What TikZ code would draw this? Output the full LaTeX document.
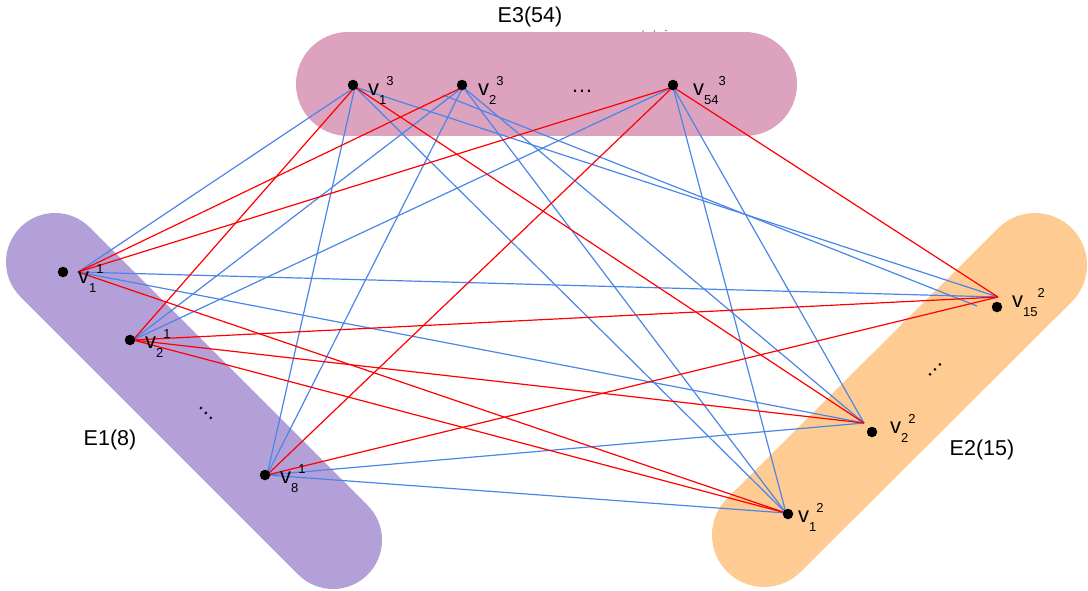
\documentclass[tikz,border=0pt]{standalone}
\usepackage{fontspec}
\setmainfont{Liberation Sans}
\definecolor{grpA}{HTML}{B4A0D8}
\definecolor{grpB}{HTML}{FECC92}
\definecolor{grpC}{HTML}{DCA2BE}
\definecolor{linkblue}{HTML}{4A86E8}
\definecolor{linkred}{HTML}{FF0000}
% vertex name: v with index below and group number above, set side by side
\newcommand\vlab[2]{v\raisebox{-9pt}{\fontsize{13}{13}\selectfont #1}\raisebox{9.5pt}{\fontsize{13}{13}\selectfont #2}}
\begin{document}
\begin{tikzpicture}[x=1pt,y=-1pt,
  blob/.style={line cap=round},
  vdot/.style={circle, fill=black, inner sep=0pt, minimum size=10.5pt},
  bl/.style={draw=linkblue, line width=1.2pt},
  rd/.style={draw=linkred, line width=1.2pt},
  vlabel/.style={anchor=base west, inner sep=0pt, font=\fontsize{22}{22}\selectfont},
  grouptitle/.style={anchor=base, inner sep=0pt, font=\fontsize{21.5}{22}\selectfont},
  ell/.style={inner sep=0pt, font=\fontsize{22}{22}\selectfont}]
\useasboundingbox (0,0) rectangle (1088,590);

% groups
\draw[blob, grpC, line width=104pt] (348,84) -- (745,84);
\draw[blob, grpA, line width=98pt] (55,262) -- (333,540);
\draw[blob, grpB, line width=104pt] (1035,265) -- (764,535);

% group titles
\node[grouptitle] (tE3) at (530,22.5) {E3(54)};
\node[grouptitle] (tE1) at (110,445) {E1(8)};
\node[grouptitle] (tE2) at (982,455) {E2(15)};

% edge ends
\coordinate (a1) at (78,272);
\coordinate (a2) at (133,340);
\coordinate (a8) at (267,475);
\coordinate (b1) at (786,513);
\coordinate (b2) at (864,423);
\coordinate (b15) at (998,297);
\coordinate (c1) at (355,87);
\coordinate (c2) at (463,87);
\coordinate (c54) at (673,87);
\coordinate (c2x) at (443,95);
\coordinate (b15x) at (977,306);

% blue edges
\draw[bl] (a1) -- (c1);
\draw[bl] (a1) -- (b2);
\draw[bl] (a1) -- (b15);
\draw[bl] (a2) -- (c2);
\draw[bl] (a2) -- (c54);
\draw[bl] (a8) -- (c1);
\draw[bl] (a8) -- (c2);
\draw[bl] (a8) -- (b2);
\draw[bl] (a8) -- (b1);
\draw[bl] (c1) -- (b1);
\draw[bl] (c1) -- (b15);
\draw[bl] (c2) -- (b1);
\draw[bl] (c2) -- (b2);
\draw[bl] (c2x) -- (b15x);
\draw[bl] (c54) -- (b1);
\draw[bl] (c54) -- (b2);

% red edges
\draw[rd] (a1) -- (c2);
\draw[rd] (a1) -- (c54);
\draw[rd] (a1) -- (b1);
\draw[rd] (a2) -- (c1);
\draw[rd] (a2) -- (b15);
\draw[rd] (a2) -- (b2);
\draw[rd] (a2) -- (b1);
\draw[rd] (a8) -- (c54);
\draw[rd] (a8) -- (b15);
\draw[rd] (c1) -- (b2);
\draw[rd] (c54) -- (b15);

% vertices
\node[vdot] (v11) at (63,272) {};
\node[vdot] (v21) at (130,340) {};
\node[vdot] (v81) at (265,475) {};
\node[vdot] (v12) at (788,514) {};
\node[vdot] (v22) at (872,432) {};
\node[vdot] (v152) at (997,307) {};
\node[vdot] (v13) at (353,85) {};
\node[vdot] (v23) at (462,85) {};
\node[vdot] (v543) at (673,85) {};

% vertex names
\node[vlabel] (l11) at (78,283) {\vlab{1}{1}};
\node[vlabel] (l21) at (145,348) {\vlab{2}{1}};
\node[vlabel] (l81) at (280,483) {\vlab{8}{1}};
\node[vlabel] (l12) at (798,522) {\vlab{1}{2}};
\node[vlabel] (l22) at (890,433) {\vlab{2}{2}};
\node[vlabel] (l152) at (1012,307) {\vlab{15}{2}};
\node[vlabel] (l13) at (368,95) {\vlab{1}{3}};
\node[vlabel] (l23) at (478,95) {\vlab{2}{3}};
\node[vlabel] (l543) at (693,95) {\vlab{54}{3}};

% ellipses
\node[ell] (e3) at (582,91) {…};
\node[ell, rotate=-45] (e1) at (206,413.5) {…};
\node[ell, rotate=45] (e2) at (935.5,370) {…};
\fill[gray] (643,31) circle (0.8) (654.5,31) circle (0.8) (666,30.5) circle (0.8);
\end{tikzpicture}
\end{document}
